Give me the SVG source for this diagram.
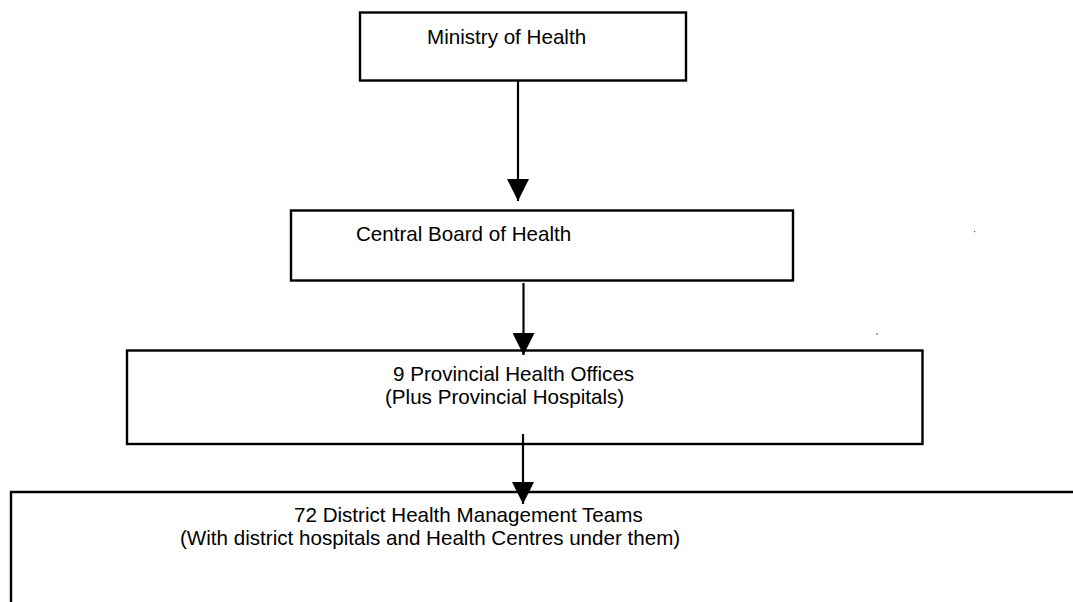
<svg xmlns="http://www.w3.org/2000/svg" width="1073" height="602" viewBox="0 0 1073 602">
  <defs>
    <style>
      .box { fill: #ffffff; stroke: #000000; stroke-width: 2.4; }
      .lbl { font-family: "Liberation Sans", Arial, Helvetica, sans-serif; font-size: 20.6px; fill: #000000; }
      .conn { stroke: #000000; stroke-width: 2.2; fill: none; }
    </style>
    <marker id="arrow" markerUnits="userSpaceOnUse" markerWidth="22" markerHeight="22" viewBox="0 0 21 21" refX="21" refY="10.5" orient="auto">
      <path d="M0,0 L21,10.5 L0,21 Z" fill="#000000"/>
    </marker>
  </defs>
  <rect x="0" y="0" width="1073" height="602" fill="#ffffff"/>

  <g id="node-ministry">
    <rect class="box" x="360" y="12.5" width="326" height="68"/>
    <text class="lbl" x="427" y="43.5">Ministry of Health</text>
  </g>

  <g id="node-cbh">
    <rect class="box" x="291" y="210.5" width="502" height="70"/>
    <text class="lbl" x="356" y="241">Central Board of Health</text>
  </g>

  <g id="node-provincial">
    <rect class="box" x="127" y="350.5" width="795.5" height="93.5"/>
    <text class="lbl" x="393" y="380.5">9 Provincial Health Offices</text>
    <text class="lbl" x="385" y="403.5">(Plus Provincial Hospitals)</text>
  </g>

  <g id="node-district">
    <path class="box" d="M11,602 V492 H1073" fill="none"/>
    <text class="lbl" x="294" y="522">72 District Health Management Teams</text>
    <text class="lbl" x="180" y="545">(With district hospitals and Health Centres under them)</text>
  </g>

  <g id="connectors">
    <line class="conn" x1="518" y1="81" x2="518" y2="201" marker-end="url(#arrow)"/>
    <line class="conn" x1="523.5" y1="283" x2="523.5" y2="355" marker-end="url(#arrow)"/>
    <line class="conn" x1="523" y1="434" x2="523" y2="504" marker-end="url(#arrow)"/>
  </g>

  <g id="specks" fill="#555555">
    <rect x="974" y="231" width="1.2" height="1.2"/>
    <rect x="876" y="333.5" width="2" height="1"/>
  </g>
</svg>
